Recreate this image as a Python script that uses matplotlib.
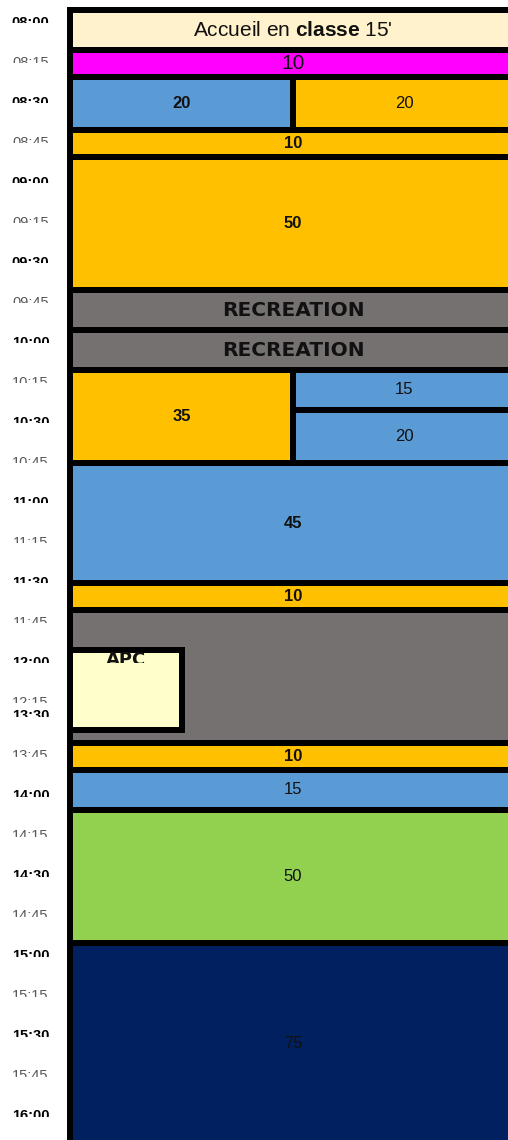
import matplotlib
matplotlib.use("Agg")
import matplotlib.pyplot as plt
from matplotlib.patches import Rectangle
from matplotlib.transforms import Bbox, TransformedBbox

plt.rcParams['mathtext.fontset'] = 'custom'
plt.rcParams['mathtext.rm'] = 'Liberation Sans'
plt.rcParams['mathtext.bf'] = 'Liberation Sans:bold'

# ---------------- data ----------------
# schedule blocks (display minutes from 08:00)
block_labels = ["Accueil en $\\mathbf{classe}$ 15'", "10", "20", "20", "10", "50",
                "RECREATION", "RECREATION", "35", "15", "20", "45", "10", "",
                "APC", "10", "15", "50", "75"]
block_start = [0, 15, 25, 25, 45, 55, 105, 120, 135, 135, 150, 170, 215, 225,
               240, 275, 285, 300, 350]
block_duration = [15, 10, 20, 20, 10, 50, 15, 15, 35, 15, 20, 45, 10, 50,
                  30, 10, 15, 50, 75]
block_column = [0, 0, 0, 1, 0, 0, 0, 0, 0, 1, 1, 0, 0, 0, 0, 0, 0, 0, 0]
block_span = [2, 2, 1, 1, 2, 2, 2, 2, 1, 1, 1, 2, 2, 2, 0.5, 2, 2, 2, 2]
block_colors = ["#FFF2CC", "#FF00FF", "#5B9BD5", "#FFC000", "#FFC000", "#FFC000",
                "#767171", "#767171", "#FFC000", "#5B9BD5", "#5B9BD5", "#5B9BD5",
                "#FFC000", "#767171", "#FFFFCC", "#FFC000", "#5B9BD5", "#92D050",
                "#002060"]
block_bold = [False, False, True, False, True, True, True, True, True, False,
              False, True, True, False, True, True, False, False, False]
block_big = [True, True, False, False, False, False, False, False, False, False,
             False, False, False, False, False, False, False, False, False]

# time labels and their display positions (minutes)
time_labels = ["08:00", "08:15", "08:30", "08:45", "09:00", "09:15", "09:30",
               "09:45", "10:00", "10:15", "10:30", "10:45", "11:00", "11:15",
               "11:30", "11:45", "12:00", "12:15", "13:30", "13:45", "14:00",
               "14:15", "14:30", "14:45", "15:00", "15:15", "15:30", "15:45",
               "16:00"]
time_positions = [0, 15, 30, 45, 60, 75, 90, 105, 120, 135, 150, 165, 180, 195,
                  210, 225, 240, 255, 260, 275, 290, 305, 320, 335, 350, 365,
                  380, 395, 410]

# ---------------- layout ----------------
W, H, DPI = 508, 1140, 100
PX_PER_MIN = 160 / 60.0
COL_PX = 223.0
LEFT_PX = 70.0
TOP_PX = 10.0
EDGE_PT = 6 * 72.0 / DPI

fig = plt.figure(figsize=(W / DPI, H / DPI), dpi=DPI)
ax = fig.add_axes([0, 0, 1, 1])
ax.set_xlim(-LEFT_PX / COL_PX, (W - LEFT_PX) / COL_PX)
ax.set_ylim((H - TOP_PX) / PX_PER_MIN, -TOP_PX / PX_PER_MIN)
ax.axis('off')

def clip_to(t, x0, x1, y0, y1):
    t.set_clip_on(True)
    t.set_clip_box(TransformedBbox(Bbox([[x0, y0], [x1, y1]]), ax.transData))

for lab, s, d, c, sp, col, b, big in zip(block_labels, block_start, block_duration,
                                         block_column, block_span, block_colors,
                                         block_bold, block_big):
    z = 3 if lab == "APC" else 1
    ax.add_patch(Rectangle((c, s), sp, d, facecolor=col, edgecolor='black',
                           linewidth=EDGE_PT, zorder=z, joinstyle='miter'))
    if not lab:
        continue
    xc = c + sp / 2.0
    yc = s + d / 2.0
    if lab == "RECREATION":
        ax.text(xc, yc, lab, ha='center', va='center', fontsize=14.5,
                fontweight='bold', family='DejaVu Sans', color='#111111', zorder=5)
    elif lab == "APC":
        t = ax.text(xc, s + 0.3, lab, ha='center', va='top', fontsize=13,
                    fontweight='bold', family='DejaVu Sans', color='#111111',
                    zorder=5)
        clip_to(t, c, c + sp, s - 2, s + 4.9)
    else:
        ax.text(xc, yc, lab, ha='center', va='center',
                fontsize=15 if big else 12,
                fontweight='bold' if b else 'normal', family='Liberation Sans',
                color='#111111', zorder=5)

# time labels (clipped halfway, like the original)
xlab = (30.5 - LEFT_PX) / COL_PX
for lab, p in zip(time_labels, time_positions):
    major = lab.endswith(":00") or lab.endswith(":30")
    t = ax.text(xlab, p + 17.1 / PX_PER_MIN, lab, ha='center', va='baseline',
                fontsize=10.5, fontweight='bold' if major else 'normal',
                family='Liberation Sans',
                color='black' if major else '#595959', zorder=5)
    clip_to(t, -LEFT_PX / COL_PX, -0.01, p, p + 13.3 / PX_PER_MIN)

fig.savefig("out.png", dpi=DPI, facecolor='white')
